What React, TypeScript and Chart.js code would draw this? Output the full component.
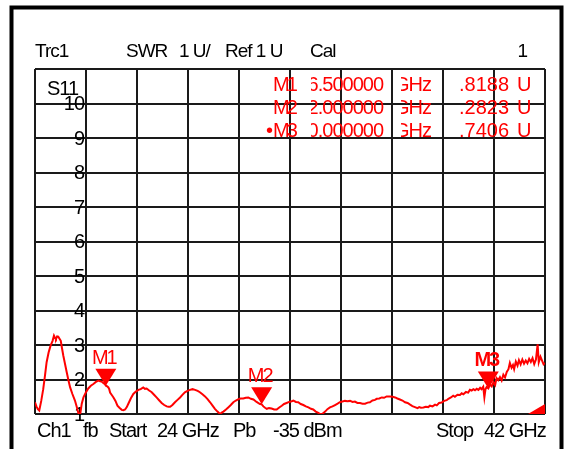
import { useEffect, useRef } from "react";
import { Chart, registerables } from "chart.js";

Chart.register(...registerables);

// ---- data ----
const freqGHz = [
  24.0, 24.05, 24.1, 24.15, 24.22, 24.29, 24.35, 24.41, 24.48, 24.55, 24.62, 24.67, 24.71, 24.74, 24.78, 24.82,
  24.86, 24.91, 24.95, 25.0, 25.06, 25.12, 25.18, 25.24, 25.32, 25.41, 25.47, 25.53, 25.57, 25.6, 25.65, 25.71,
  25.79, 25.88, 25.97, 26.06, 26.15, 26.24, 26.3, 26.35, 26.41, 26.47, 26.5, 26.55, 26.59, 26.62, 26.65, 26.71,
  26.77, 26.84, 26.91, 26.98, 27.06, 27.12, 27.18, 27.24, 27.29, 27.38, 27.47, 27.56, 27.65, 27.73, 27.82, 27.88,
  27.94, 28.03, 28.12, 28.21, 28.29, 28.38, 28.47, 28.56, 28.65, 28.71, 28.77, 28.85, 28.94, 29.03, 29.12, 29.21,
  29.29, 29.38, 29.47, 29.56, 29.65, 29.74, 29.82, 29.91, 30.0, 30.09, 30.18, 30.26, 30.35, 30.44, 30.53, 30.59,
  30.65, 30.74, 30.82, 30.91, 31.0, 31.09, 31.18, 31.26, 31.35, 31.44, 31.53, 31.62, 31.71, 31.82, 31.94, 32.0,
  32.06, 32.12, 32.18, 32.26, 32.35, 32.44, 32.53, 32.62, 32.71, 32.79, 32.88, 32.97, 33.06, 33.12, 33.21, 33.29,
  33.38, 33.47, 33.56, 33.65, 33.74, 33.82, 33.91, 34.0, 34.06, 34.12, 34.18, 34.24, 34.32, 34.41, 34.5, 34.59,
  34.68, 34.76, 34.85, 34.94, 35.03, 35.12, 35.21, 35.29, 35.38, 35.47, 35.56, 35.65, 35.74, 35.82, 35.91, 36.0,
  36.06, 36.15, 36.24, 36.32, 36.41, 36.53, 36.62, 36.71, 36.79, 36.88, 36.97, 37.06, 37.15, 37.24, 37.32, 37.41,
  37.5, 37.56, 37.62, 37.71, 37.79, 37.88, 37.94, 38.03, 38.12, 38.18, 38.26, 38.35, 38.44, 38.53, 38.59, 38.68,
  38.76, 38.82, 38.91, 39.0, 39.06, 39.12, 39.21, 39.29, 39.35, 39.41, 39.47, 39.53, 39.59, 39.65, 39.71, 39.76,
  39.82, 39.86, 39.9, 39.94, 40.0, 40.06, 40.12, 40.18, 40.24, 40.29, 40.35, 40.41, 40.47, 40.53, 40.59, 40.65,
  40.71, 40.76, 40.82, 40.87, 40.91, 40.97, 41.03, 41.08, 41.14, 41.2, 41.26, 41.32, 41.38, 41.44, 41.5, 41.56,
  41.62, 41.68, 41.74, 41.78, 41.84, 41.9, 41.95, 42.0,
];

const swr = [
  1.34, 1.22, 1.14, 1.1, 1.38, 1.72, 2.1, 2.5, 2.78, 2.98, 3.12, 3.27, 3.2, 3.17, 3.25, 3.24,
  3.19, 3.12, 2.92, 2.69, 2.45, 2.21, 1.98, 1.77, 1.58, 1.39, 1.22, 1.03, 0.98, 1.02, 1.3, 1.48,
  1.62, 1.74, 1.82, 1.87, 1.93, 1.97, 1.95, 1.94, 1.9, 1.86, 1.82, 1.8, 1.77, 1.72, 1.62, 1.55,
  1.48, 1.38, 1.24, 1.18, 1.12, 1.11, 1.13, 1.2, 1.29, 1.45, 1.58, 1.65, 1.7, 1.72, 1.77, 1.73,
  1.74, 1.68, 1.63, 1.55, 1.48, 1.4, 1.32, 1.26, 1.22, 1.21, 1.21, 1.26, 1.34, 1.41, 1.48, 1.56,
  1.63, 1.67, 1.7, 1.72, 1.7, 1.67, 1.63, 1.57, 1.51, 1.43, 1.34, 1.25, 1.15, 1.07, 1.0, 1.04,
  1.07, 1.13, 1.19, 1.26, 1.34, 1.39, 1.43, 1.45, 1.45, 1.47, 1.48, 1.44, 1.42, 1.35, 1.29, 1.28,
  1.22, 1.18, 1.15, 1.17, 1.16, 1.13, 1.13, 1.19, 1.24, 1.29, 1.32, 1.35, 1.37, 1.39, 1.35, 1.34,
  1.29, 1.26, 1.22, 1.19, 1.15, 1.13, 1.07, 1.03, 1.0, 0.99, 1.03, 1.07, 1.14, 1.19, 1.22, 1.26,
  1.3, 1.34, 1.36, 1.38, 1.37, 1.38, 1.35, 1.36, 1.32, 1.32, 1.3, 1.3, 1.33, 1.34, 1.39, 1.41,
  1.44, 1.45, 1.48, 1.47, 1.51, 1.51, 1.5, 1.48, 1.45, 1.42, 1.39, 1.34, 1.32, 1.27, 1.23, 1.2,
  1.17, 1.2, 1.18, 1.19, 1.21, 1.2, 1.24, 1.22, 1.27, 1.25, 1.32, 1.33, 1.38, 1.4, 1.44, 1.48,
  1.53, 1.5, 1.56, 1.55, 1.6, 1.57, 1.64, 1.62, 1.7, 1.68, 1.72, 1.69, 1.73, 1.7, 1.76, 1.72,
  1.79, 1.48, 1.72, 1.78, 1.74, 1.86, 1.8, 1.92, 1.84, 2.04, 1.98, 2.07, 1.97, 2.14, 2.06, 2.22,
  2.3, 2.48, 2.34, 2.42, 2.3, 2.52, 2.4, 2.56, 2.44, 2.58, 2.46, 2.55, 2.47, 2.6, 2.51, 2.62,
  2.45, 2.58, 3.02, 2.5, 2.66, 2.54, 2.44, 2.48,
];

const markerNames = ["M1", "M2", "M3"];
const markerFreqGHz = [26.5, 32.0, 40.0];
const markerSWR = [1.8188, 1.2823, 1.7406];

const startGHz = 24;
const stopGHz = 42;
const refValue = 1;
const unitsPerDiv = 1;
const divisions = 10;
const yTickLabels = ["1", "2", "3", "4", "5", "6", "7", "8", "9", "10"];

const headerTexts = ["Trc1", "SWR", "1 U/", "Ref 1 U", "Cal"];
const footerTexts = ["Ch1", "fb", "Start", "24 GHz", "Pb", "-35 dBm", "Stop", "42 GHz"];

// ---- styling / layout ----
const FONT = '"Liberation Sans", Arial, sans-serif';
const RED = "#ff0000";

const overlayPlugin = {
  id: "vnaOverlay",
  beforeDatasetsDraw(chart: any) {
    const ctx = chart.ctx as CanvasRenderingContext2D;
    const ys = chart.scales.y;
    const xs = chart.scales.x;
    ctx.save();
    (ctx as any).letterSpacing = "-1px";
    ctx.fillStyle = "#000";
    ctx.font = `20px ${FONT}`;
    ctx.textAlign = "right";
    ctx.textBaseline = "middle";
    const labelX = xs.getPixelForValue(startGHz + (stopGHz - startGHz) / divisions) - 2;
    yTickLabels.forEach((t, i) => {
      ctx.fillText(t, labelX, ys.getPixelForValue(refValue + i * unitsPerDiv) + 1);
    });
    ctx.textAlign = "left";
    ctx.textBaseline = "alphabetic";
    ctx.fillText("S11", 47, 95);
    ctx.restore();
  },
  afterDatasetsDraw(chart: any) {
    const ctx = chart.ctx as CanvasRenderingContext2D;
    const ys = chart.scales.y;
    const xs = chart.scales.x;
    const area = chart.chartArea;
    ctx.save();
    ctx.fillStyle = RED;
    // markers on trace
    markerNames.forEach((name, i) => {
      const px = xs.getPixelForValue(markerFreqGHz[i]);
      const py = ys.getPixelForValue(markerSWR[i]);
      ctx.beginPath();
      ctx.moveTo(px, py);
      ctx.lineTo(px - 10.5, py - 17);
      ctx.lineTo(px + 10.5, py - 17);
      ctx.closePath();
      ctx.fill();
      ctx.font = `${i === 2 ? "bold " : ""}20px ${FONT}`;
      (ctx as any).letterSpacing = "-2px";
      ctx.textAlign = "center";
      ctx.textBaseline = "alphabetic";
      ctx.fillText(name, px - 2, py - 22);
    });
    // stop indicator triangle
    ctx.beginPath();
    ctx.moveTo(area.right - 17, area.bottom);
    ctx.lineTo(area.right, area.bottom);
    ctx.lineTo(area.right, area.bottom - 10);
    ctx.closePath();
    ctx.fill();

    // marker table
    ctx.font = `20px ${FONT}`;
    ctx.textBaseline = "alphabetic";
    const rows = [91, 114, 137];
    const clipText = (t: string, x: number, y: number, align: CanvasTextAlign, c0: number, c1: number, sp: string) => {
      ctx.save();
      ctx.beginPath();
      ctx.rect(c0, y - 25, c1 - c0, 32);
      ctx.clip();
      (ctx as any).letterSpacing = sp;
      ctx.textAlign = align;
      ctx.fillText(t, x, y);
      ctx.restore();
    };
    markerNames.forEach((name, i) => {
      const y = rows[i];
      (ctx as any).letterSpacing = "-3px";
      ctx.textAlign = "left";
      ctx.fillText(name, 273, y);
      (ctx as any).letterSpacing = "0px";
      if (i === 2) {
        ctx.textAlign = "right";
        ctx.fillText("•", 273, y);
      }
      clipText(markerFreqGHz[i].toFixed(6), 383, y, "right", 311, 392, "-1px");
      clipText("GHz", 394, y, "left", 401, 446, "-1px");
      clipText(markerSWR[i].toFixed(4), 509, y, "right", 460, 514, "0px");
      (ctx as any).letterSpacing = "0px";
      ctx.textAlign = "left";
      ctx.fillText("U", 517, y);
    });
    ctx.restore();
  },
  afterDraw(chart: any) {
    const ctx = chart.ctx as CanvasRenderingContext2D;
    ctx.save();
    (ctx as any).letterSpacing = "-1px";
    ctx.fillStyle = "#000";
    ctx.textBaseline = "alphabetic";
    ctx.textAlign = "left";
    ctx.font = `19px ${FONT}`;
    const hx = [35, 126, 179, 225, 310];
    headerTexts.forEach((t, i) => ctx.fillText(t, hx[i], 57));
    ctx.textAlign = "right";
    ctx.fillText("1", 527, 57);
    ctx.textAlign = "left";
    ctx.font = `20px ${FONT}`;
    const fx = [37, 83, 109, 157, 233, 273, 436, 484];
    footerTexts.forEach((t, i) => ctx.fillText(t, fx[i], 437));
    // outer frame
    ctx.strokeStyle = "#000";
    ctx.lineWidth = 4;
    ctx.beginPath();
    ctx.moveTo(11.5, 449);
    ctx.lineTo(11.5, 7.5);
    ctx.lineTo(561.5, 7.5);
    ctx.lineTo(561.5, 449);
    ctx.stroke();
    ctx.restore();
  },
};

export default function App() {
  const canvasRef = useRef<HTMLCanvasElement | null>(null);

  useEffect(() => {
    if (!canvasRef.current) return;
    const xGrid = Array.from({ length: divisions + 1 }, (_, i) => startGHz + ((stopGHz - startGHz) * i) / divisions);
    const yGrid = Array.from({ length: divisions + 1 }, (_, i) => refValue + i * unitsPerDiv);
    const chart = new Chart(canvasRef.current, {
      type: "line",
      data: {
        datasets: [
          {
            label: "S11 SWR",
            data: freqGHz.map((f, i) => ({ x: f, y: swr[i] })),
            borderColor: RED,
            borderWidth: 2,
            pointRadius: 0,
            tension: 0,
            fill: false,
          },
        ],
      },
      options: {
        responsive: false,
        animation: false,
        devicePixelRatio: 1,
        layout: { padding: { left: 35, top: 69, right: 22, bottom: 35 } },
        plugins: { legend: { display: false }, tooltip: { enabled: false } },
        scales: {
          x: {
            type: "linear",
            min: startGHz,
            max: stopGHz,
            afterBuildTicks: (scale: any) => {
              scale.ticks = xGrid.map((v) => ({ value: v }));
            },
            ticks: { display: false },
            grid: { color: "#1a1a1a", lineWidth: 2, drawTicks: false },
            border: { display: false },
          },
          y: {
            type: "linear",
            min: refValue,
            max: refValue + divisions * unitsPerDiv,
            afterBuildTicks: (scale: any) => {
              scale.ticks = yGrid.map((v) => ({ value: v }));
            },
            ticks: { display: false },
            grid: { color: "#1a1a1a", lineWidth: 2, drawTicks: false },
            border: { display: false },
          },
        },
      },
      plugins: [overlayPlugin],
    });
    return () => chart.destroy();
  }, []);

  return (
    <div style={{ position: "absolute", left: 0, top: 0, width: 567, height: 449, background: "#fff" }}>
      <canvas ref={canvasRef} width={567} height={449} style={{ display: "block" }} />
    </div>
  );
}
